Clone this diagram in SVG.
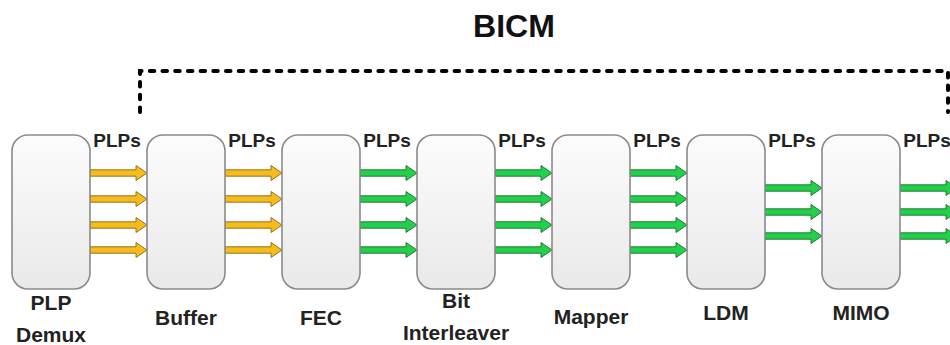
<svg xmlns="http://www.w3.org/2000/svg" xmlns:xlink="http://www.w3.org/1999/xlink" width="950" height="345" viewBox="0 0 950 345">
<style>
.box{fill:url(#bg);stroke:#8a8a8a;stroke-width:1.6}
.lbl{font-family:"Liberation Sans",Arial,sans-serif;font-weight:bold;font-size:21px;fill:#222;text-anchor:middle}
.plp{font-family:"Liberation Sans",Arial,sans-serif;font-weight:bold;font-size:19px;fill:#222;text-anchor:middle}
.title{font-family:"Liberation Sans",Arial,sans-serif;font-weight:bold;font-size:32px;fill:#111;text-anchor:middle}
.y{fill:#f6bb1c;stroke:#8a6a10;stroke-width:0.9}
.g{fill:#22d04a;stroke:#1d6b32;stroke-width:0.9}
.dash{fill:none;stroke:#000;stroke-width:4;stroke-dasharray:4.5 8.2;stroke-linecap:round}
</style>
<defs>
<linearGradient id="bg" x1="0" y1="0" x2="0" y2="1">
<stop offset="0" stop-color="#fcfcfc"/>
<stop offset="1" stop-color="#e9e9e9"/>
</linearGradient>
<path id="arr" d="M0,-3.2 H46 V-7.5 L57,0 L46,7.5 V3.2 H0 Z"/>
</defs>
<text class="title" x="514" y="37">BICM</text>
<path class="dash" d="M140,112 V71 H948 V112"/>
<g id="connectors">
<use href="#arr" class="y" x="90" y="173"/>
<use href="#arr" class="y" x="90" y="199"/>
<use href="#arr" class="y" x="90" y="225"/>
<use href="#arr" class="y" x="90" y="250"/>
<use href="#arr" class="y" x="225" y="173"/>
<use href="#arr" class="y" x="225" y="199"/>
<use href="#arr" class="y" x="225" y="225"/>
<use href="#arr" class="y" x="225" y="250"/>
<use href="#arr" class="g" x="360" y="173"/>
<use href="#arr" class="g" x="360" y="199"/>
<use href="#arr" class="g" x="360" y="225"/>
<use href="#arr" class="g" x="360" y="250"/>
<use href="#arr" class="g" x="495" y="173"/>
<use href="#arr" class="g" x="495" y="199"/>
<use href="#arr" class="g" x="495" y="225"/>
<use href="#arr" class="g" x="495" y="250"/>
<use href="#arr" class="g" x="630" y="173"/>
<use href="#arr" class="g" x="630" y="199"/>
<use href="#arr" class="g" x="630" y="225"/>
<use href="#arr" class="g" x="630" y="250"/>
<use href="#arr" class="g" x="765" y="188"/>
<use href="#arr" class="g" x="765" y="212"/>
<use href="#arr" class="g" x="765" y="236"/>
<use href="#arr" class="g" x="900" y="188"/>
<use href="#arr" class="g" x="900" y="212"/>
<use href="#arr" class="g" x="900" y="236"/>
<text class="plp" x="117" y="147">PLPs</text>
<text class="plp" x="252" y="147">PLPs</text>
<text class="plp" x="387" y="147">PLPs</text>
<text class="plp" x="522" y="147">PLPs</text>
<text class="plp" x="657" y="147">PLPs</text>
<text class="plp" x="792" y="147">PLPs</text>
<text class="plp" x="927" y="147">PLPs</text>
</g>
<g id="plp-demux">
<rect class="box" x="12" y="135" width="78" height="154" rx="16"/>
<text class="lbl" x="51" y="310">PLP</text>
<text class="lbl" x="51" y="342">Demux</text>
</g>
<g id="buffer">
<rect class="box" x="147" y="135" width="78" height="154" rx="16"/>
<text class="lbl" x="186" y="325">Buffer</text>
</g>
<g id="fec">
<rect class="box" x="282" y="135" width="78" height="154" rx="16"/>
<text class="lbl" x="321" y="325">FEC</text>
</g>
<g id="bit-interleaver">
<rect class="box" x="417" y="135" width="78" height="154" rx="16"/>
<text class="lbl" x="456" y="308">Bit</text>
<text class="lbl" x="456" y="340">Interleaver</text>
</g>
<g id="mapper">
<rect class="box" x="552" y="135" width="78" height="154" rx="16"/>
<text class="lbl" x="591" y="324">Mapper</text>
</g>
<g id="ldm">
<rect class="box" x="687" y="135" width="78" height="154" rx="16"/>
<text class="lbl" x="726" y="320">LDM</text>
</g>
<g id="mimo">
<rect class="box" x="822" y="135" width="78" height="154" rx="16"/>
<text class="lbl" x="861" y="320">MIMO</text>
</g>
</svg>
